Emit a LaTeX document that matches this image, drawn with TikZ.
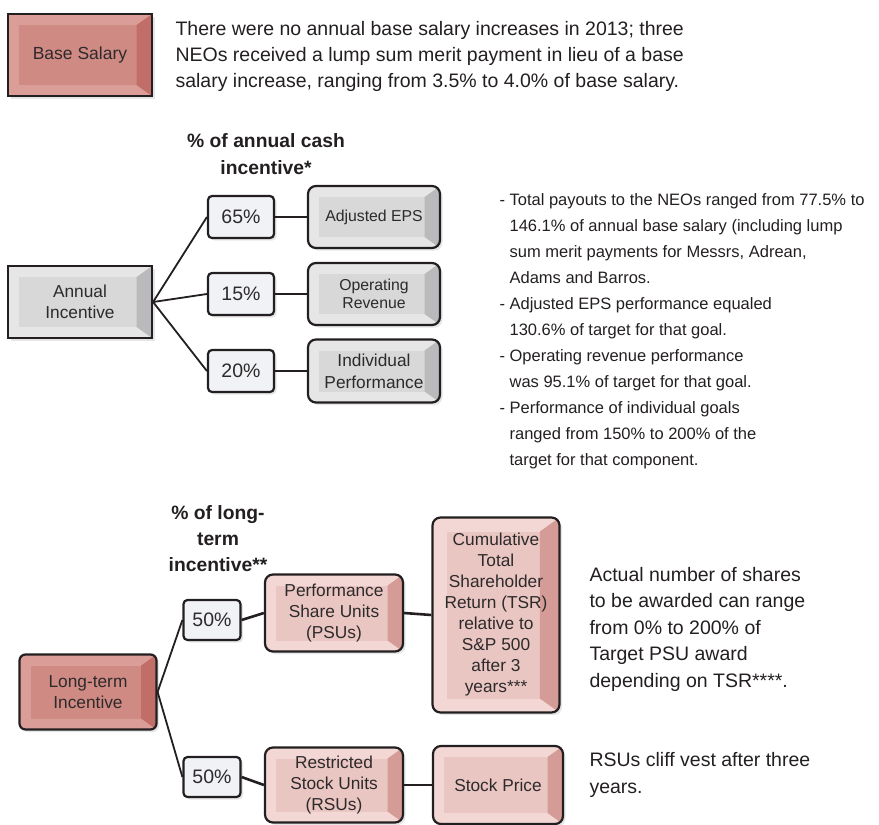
\documentclass[tikz,border=0pt]{standalone}
\usepackage{fontspec}
\setmainfont{Liberation Sans}
\usetikzlibrary{shadows}

\definecolor{ink}{RGB}{35,31,32}
\definecolor{boxink}{RGB}{45,42,43}
\definecolor{salface}{RGB}{208,138,132}
\definecolor{sallight}{RGB}{219,157,151}
\definecolor{saldark}{RGB}{193,110,104}
\definecolor{pinkface}{RGB}{234,198,194}
\definecolor{pinklight}{RGB}{242,215,212}
\definecolor{pinkdark}{RGB}{213,155,150}
\definecolor{greyface}{RGB}{216,216,217}
\definecolor{greylight}{RGB}{230,230,231}
\definecolor{greydark}{RGB}{186,186,188}
\definecolor{pctfill}{RGB}{240,242,246}

\newcommand{\fsz}[2]{\fontsize{#1}{#2}\selectfont}

\tikzset{
  bevw/.store in=\bevw, bevw=11pt,
  bevel/.style n args={3}{fill=#2, path picture={
      \coordinate (bsw) at (path picture bounding box.south west);
      \coordinate (bne) at (path picture bounding box.north east);
      \coordinate (bse) at (bne|-bsw);
      \fill[#1, sharp corners] ([shift={(\bevw,\bevw)}]bsw) rectangle ([shift={(-1.4*\bevw,-\bevw)}]bne);
      \fill[#3, sharp corners] (bne) -- (bse) -- ([shift={(-1.4*\bevw,\bevw)}]bse)
        -- ([shift={(-1.4*\bevw,-\bevw)}]bne) -- cycle;
    }},
  box/.style={draw=ink, line width=2.2pt, inner sep=0pt, align=center, text=boxink,
    drop shadow={opacity=0.2, shadow xshift=2.5pt, shadow yshift=-2.5pt}},
  salbox/.style={box, bevel={salface}{sallight}{saldark}},
  ltbox/.style={box, rounded corners=6pt, bevel={salface}{sallight}{saldark}},
  pinkbox/.style={box, rounded corners=8pt, bevel={pinkface}{pinklight}{pinkdark}},
  greyrect/.style={box, bevel={greyface}{greylight}{greydark}},
  greybox/.style={box, rounded corners=8pt, bevel={greyface}{greylight}{greydark}},
  pctbox/.style={box, rounded corners=4pt, fill=pctfill, font=\fsz{19.5}{22}},
}

\begin{document}
\begin{tikzpicture}[x=1pt,y=-1pt,
    fan/.style={draw=ink, line width=1.8pt},
    link/.style={draw=ink, line width=2.6pt},
    note/.style={anchor=west, align=left, text=ink}]
  \useasboundingbox (0,0) rectangle (879,825);

  % base salary
  \node[salbox, minimum width=144, minimum height=82, font=\fsz{17.5}{21}] (base) at (80,55) {Base Salary};
  \node[note, font=\fsz{19.5}{26}] (basetxt) at (172,56) {There were no annual base salary increases in 2013; three\\NEOs received a lump sum merit payment in lieu of a base\\salary increase, ranging from 3.5\% to 4.0\% of base salary.};

  % annual incentive
  \node[align=center, text=ink, font=\bfseries\fsz{19.3}{27}] (anhead) at (266,154.5) {\% of annual cash\\incentive*};
  \node[greyrect, minimum width=144, minimum height=72, font=\fsz{17.3}{20.7}] (annual) at (80,302) {Annual\\Incentive};
  \node[pctbox, minimum width=66, minimum height=42] (p65) at (241,217) {65\%};
  \node[pctbox, minimum width=66, minimum height=42] (p15) at (241,294) {15\%};
  \node[pctbox, minimum width=66, minimum height=42] (p20) at (241,371) {20\%};
  \node[greybox, minimum width=132, minimum height=62, font=\fsz{15.8}{18.5}] (eps) at (374,217) {Adjusted EPS};
  \node[greybox, minimum width=132, minimum height=62, font=\fsz{15.8}{18.5}] (oprev) at (374,294) {Operating\\Revenue};
  \node[greybox, minimum width=132, minimum height=63, font=\fsz{17.3}{22}] (indiv) at (374,371) {Individual\\Performance};
  \draw[fan] (annual.east) -- (p65.west);
  \draw[fan] (annual.east) -- (p15.west);
  \draw[fan] (annual.east) -- (p20.west);
  \draw[link] (p65.east) -- (eps.west);
  \draw[link] (p15.east) -- (oprev.west);
  \draw[link] (p20.east) -- (indiv.west);
  \node[note, font=\fsz{16.5}{26}] (antxt) at (496,331) {- Total payouts to the NEOs ranged from 77.5\% to\\
    \hphantom{- }146.1\% of annual base salary (including lump\\
    \hphantom{- }sum merit payments for Messrs, Adrean,\\
    \hphantom{- }Adams and Barros.\\
    - Adjusted EPS performance equaled\\
    \hphantom{- }130.6\% of target for that goal.\\
    - Operating revenue performance\\
    \hphantom{- }was 95.1\% of target for that goal.\\
    - Performance of individual goals\\
    \hphantom{- }ranged from 150\% to 200\% of the\\
    \hphantom{- }target for that component.};

  % long-term incentive
  \node[align=center, text=ink, font=\bfseries\fsz{19.3}{26}] (lthead) at (218,539) {\% of long-\\term\\incentive**};
  \node[ltbox, minimum width=137, minimum height=75, font=\fsz{17.3}{20.7}] (lti) at (88,692) {Long-term\\Incentive};
  \node[pctbox, minimum width=57, minimum height=40] (p50a) at (212,620) {50\%};
  \node[pctbox, minimum width=57, minimum height=40] (p50b) at (212,777) {50\%};
  \node[pinkbox, minimum width=138, minimum height=77, font=\fsz{17.3}{21}] (psu) at (334,613) {Performance\\Share Units\\(PSUs)};
  \node[pinkbox, minimum width=138, minimum height=75, font=\fsz{17.3}{21}] (rsu) at (334,785) {Restricted\\Stock Units\\(RSUs)};
  \node[pinkbox, bevw=14pt, minimum width=127, minimum height=195, font=\fsz{17.3}{21}] (tsr) at (496,615) {Cumulative\\Total\\Shareholder\\Return (TSR)\\relative to\\S\&P 500\\after 3\\years***};
  \node[pinkbox, minimum width=130, minimum height=78, font=\fsz{17.3}{21}] (stock) at (498,785) {Stock Price};
  \draw[fan] (lti.east) -- (p50a.west);
  \draw[fan] (lti.east) -- (p50b.west);
  \draw[link] (p50a.east) -- (psu.west);
  \draw[link] (p50b.east) -- (rsu.west);
  \draw[link] (psu.east) -- (tsr.west);
  \draw[link] (rsu.east) -- (stock.west);
  \node[note, font=\fsz{19.5}{26.5}] (psutxt) at (586,629) {Actual number of shares\\to be awarded can range\\from 0\% to 200\% of\\Target PSU award\\depending on TSR****.};
  \node[note, font=\fsz{19.5}{26.5}] (rsutxt) at (586,775) {RSUs cliff vest after three\\years.};
\end{tikzpicture}
\end{document}
